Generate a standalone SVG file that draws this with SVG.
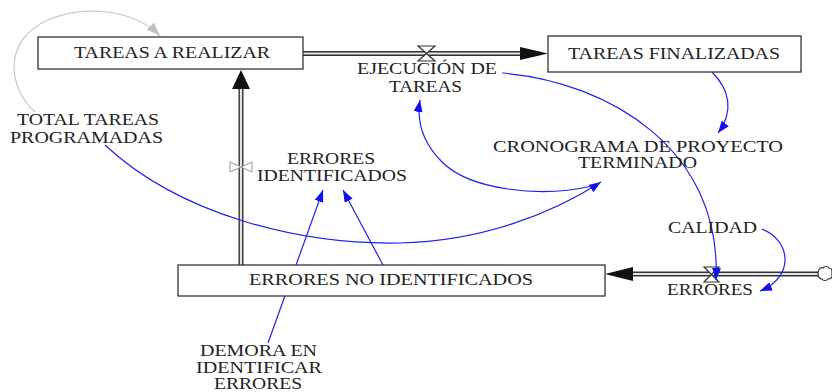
<svg xmlns="http://www.w3.org/2000/svg" width="832" height="392" viewBox="0 0 832 392">
<style>
text{font-family:"Liberation Serif","Times New Roman",serif;font-size:16px;fill:#222;text-anchor:middle}
.box{fill:#fff;stroke:#333;stroke-width:1.3}
.pipeo{fill:none;stroke:#333;stroke-width:5}
.pipei{fill:none;stroke:#e4e4e4;stroke-width:2.2}
.link{fill:none;stroke:#2020f0;stroke-width:1.2}
.glink{fill:none;stroke:#c8c8c8;stroke-width:1.2}
.valve{fill:#fff;stroke:#333;stroke-width:1.2}
</style>
<defs>
<marker id="ab" viewBox="0 0 12 9" refX="12" refY="4.5" markerWidth="12" markerHeight="9" markerUnits="userSpaceOnUse" orient="auto"><path d="M0,0 L12,4.5 L0,9 z" fill="#1010f0"/></marker>
<marker id="ag" viewBox="0 0 14 10" refX="14" refY="5" markerWidth="14" markerHeight="10" markerUnits="userSpaceOnUse" orient="auto"><path d="M0,0 L14,5 L0,10 z" fill="#c0c0c0"/></marker>
</defs>
<g id="flows">
<path class="pipeo" d="M303,53.5 H522"/><path class="pipei" d="M303,53.5 H522"/>
<polygon points="520,47 548,53.5 520,60" fill="#111"/>
<path class="pipeo" d="M818,274 H630"/><path class="pipei" d="M818,274 H630"/>
<polygon points="633,267 605,274 633,281" fill="#111"/>
<path class="pipeo" d="M241,265 V87"/><path class="pipei" d="M241,265 V87"/>
<polygon points="232,89 241,70 250,89" fill="#111"/>
<path d="M818,273 c0,-4 3,-6 5,-5 c1,-2 5,-2 6,0 c2,0 3,2 3,3 v6 c-1,2 -3,2 -4,2 c-1,2 -5,2 -6,0 c-3,0 -4,-3 -4,-6 z" fill="#fff" stroke="#333" stroke-width="1.2"/>
</g>
<g id="valve-ejecucion"><path class="valve" d="M418,46 H435 L418,61 H435 Z"/></g>
<g id="valve-errores"><path class="valve" d="M704,267 H719 L704,282 H719 Z"/></g>
<g id="valve-identificados"><path d="M230,162 V172 L252,162 V172 Z" fill="#fff" stroke="#999" stroke-width="1"/></g>
<g id="connectors">
<path class="glink" d="M35,112 C8,88 2,40 48,20 C85,4 135,10 160,36" marker-end="url(#ag)"/>
<path class="link" d="M105,145 C180,215 300,245 400,243 C480,241 550,215 601,182" marker-end="url(#ab)"/>
<path class="link" d="M592,186 C540,198 470,190 442,162 C425,145 416,125 420,100" marker-end="url(#ab)"/>
<path class="link" d="M712,72 C730,90 734,112 718,133" marker-end="url(#ab)"/>
<path class="link" d="M502,73 C610,82 722,150 716,280" marker-end="url(#ab)"/>
<path class="link" d="M762,229 C790,240 796,276 760,291" marker-end="url(#ab)"/>
<path class="link" d="M383,265 L343,190" marker-end="url(#ab)"/>
<path class="link" d="M268,343 L323,190" marker-end="url(#ab)"/>
</g>
<g id="tareas-a-realizar"><rect class="box" x="38" y="37" width="265" height="32"/><text x="172" y="58" textLength="196" lengthAdjust="spacingAndGlyphs">TAREAS A REALIZAR</text></g>
<g id="tareas-finalizadas"><rect class="box" x="548" y="36" width="253" height="36"/><text x="674" y="59" textLength="212" lengthAdjust="spacingAndGlyphs">TAREAS FINALIZADAS</text></g>
<g id="errores-no-identificados"><rect class="box" x="178" y="265" width="427" height="31"/><text x="391" y="285" textLength="284" lengthAdjust="spacingAndGlyphs">ERRORES NO IDENTIFICADOS</text></g>
<g id="ejecucion-de-tareas"><text x="427" y="74" textLength="140" lengthAdjust="spacingAndGlyphs">EJECUCIÓN DE</text><text x="425.5" y="92" textLength="73" lengthAdjust="spacingAndGlyphs">TAREAS</text></g>
<g id="total-tareas-programadas"><text x="88" y="125" textLength="142" lengthAdjust="spacingAndGlyphs">TOTAL TAREAS</text><text x="86.5" y="143" textLength="153" lengthAdjust="spacingAndGlyphs">PROGRAMADAS</text></g>
<g id="errores-identificados"><text x="331" y="164" textLength="88" lengthAdjust="spacingAndGlyphs">ERRORES</text><text x="332" y="181" textLength="150" lengthAdjust="spacingAndGlyphs">IDENTIFICADOS</text></g>
<g id="cronograma"><text x="638" y="152" textLength="290" lengthAdjust="spacingAndGlyphs">CRONOGRAMA DE PROYECTO</text><text x="637.5" y="168" textLength="119" lengthAdjust="spacingAndGlyphs">TERMINADO</text></g>
<g id="demora"><text x="258.5" y="356" textLength="117" lengthAdjust="spacingAndGlyphs">DEMORA EN</text><text x="259" y="373" textLength="126" lengthAdjust="spacingAndGlyphs">IDENTIFICAR</text><text x="258" y="389" textLength="88" lengthAdjust="spacingAndGlyphs">ERRORES</text></g>
<g id="calidad"><text x="712.5" y="233" textLength="89" lengthAdjust="spacingAndGlyphs">CALIDAD</text></g>
<g id="errores"><text x="710" y="295" textLength="86" lengthAdjust="spacingAndGlyphs">ERRORES</text></g>
</svg>
